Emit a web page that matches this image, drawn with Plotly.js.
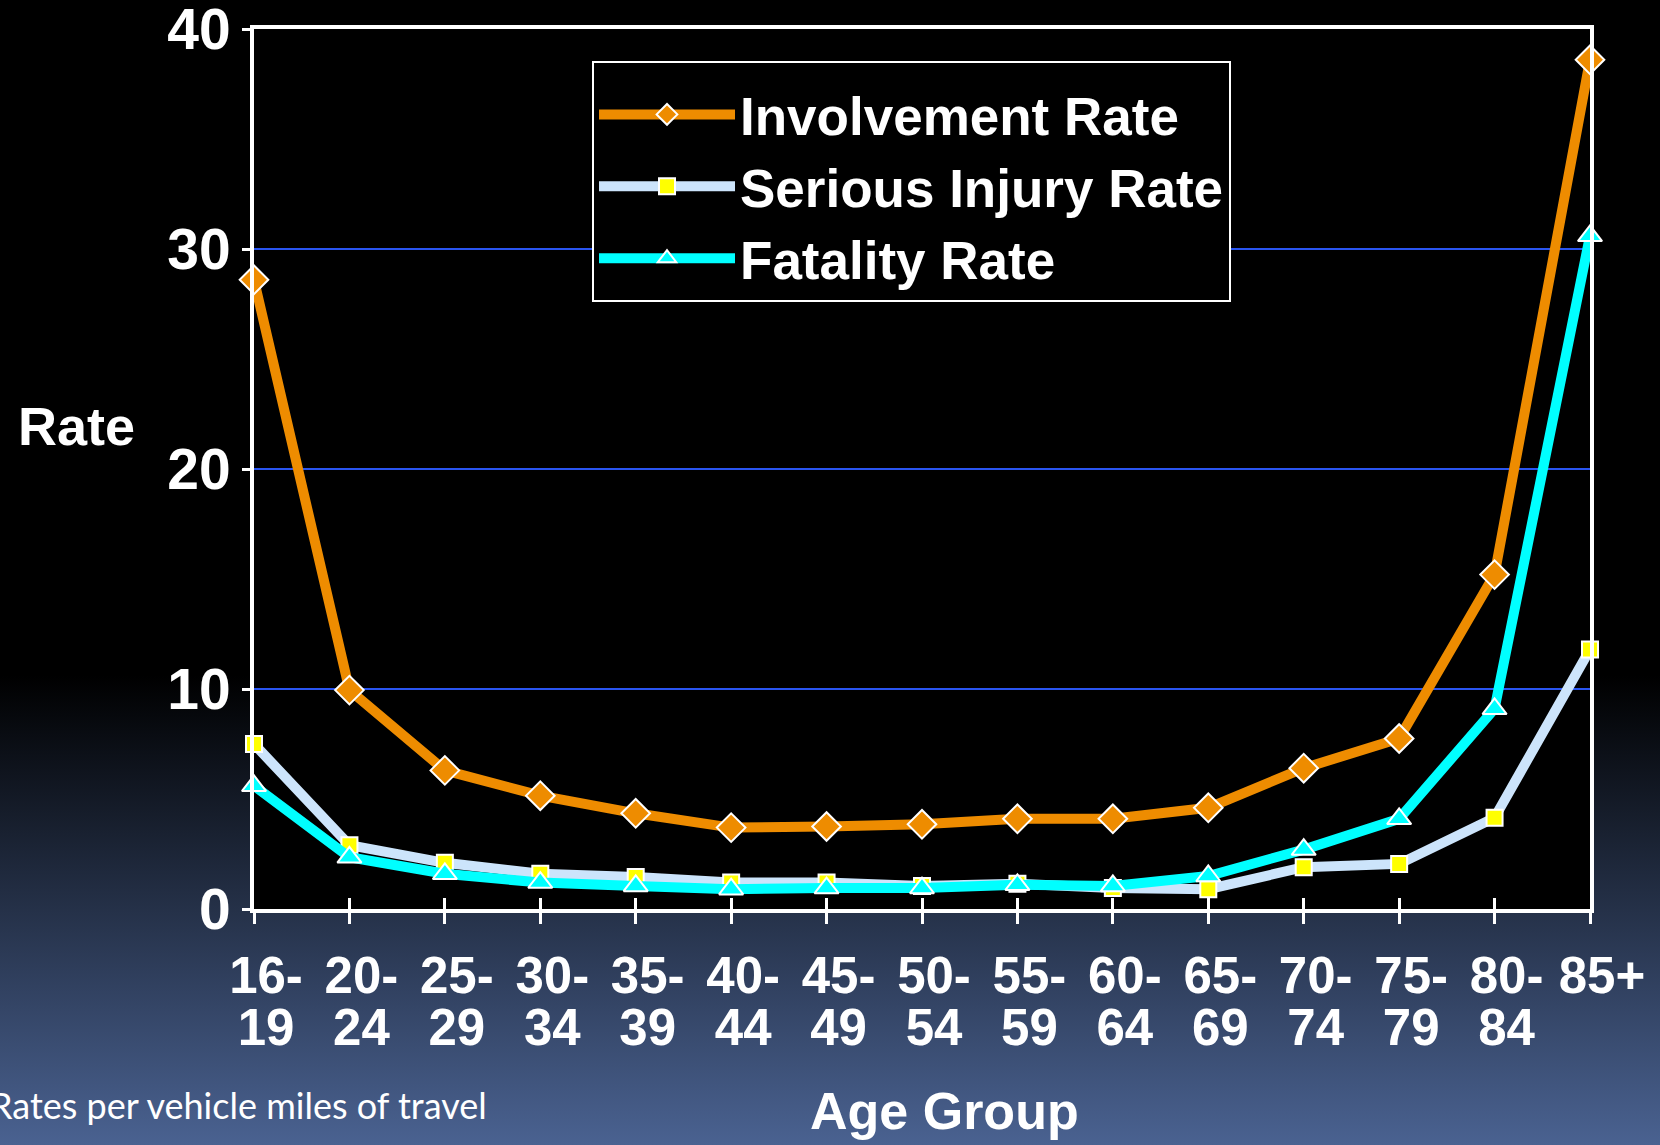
<!DOCTYPE html>
<html>
<head>
<meta charset="utf-8">
<script src="https://cdn.plot.ly/plotly-3.0.1.min.js"></script>
<style>
  html, body { margin: 0; padding: 0; }
  body {
    width: 1660px; height: 1145px; overflow: hidden;
    background: linear-gradient(to bottom, #000000 0%, #000000 59%, #4a6291 100%);
  }
  #chart { width: 1660px; height: 1145px; }
</style>
</head>
<body>
<div id="chart"></div>
<script>
// ---- data ----
const ageGroups = ["16-19","20-24","25-29","30-34","35-39","40-44","45-49","50-54","55-59","60-64","65-69","70-74","75-79","80-84","85+"];
const tickLine1 = ["16-","20-","25-","30-","35-","40-","45-","50-","55-","60-","65-","70-","75-","80-","85+"];
const tickLine2 = ["19","24","29","34","39","44","49","54","59","64","69","74","79","84",""];
const involvementRate = [28.6, 9.95, 6.3, 5.15, 4.35, 3.7, 3.75, 3.85, 4.1, 4.1, 4.6, 6.4, 7.75, 15.2, 38.6];
const seriousInjuryRate = [7.5, 2.9, 2.1, 1.6, 1.45, 1.2, 1.2, 1.05, 1.15, 0.95, 0.9, 1.9, 2.05, 4.15, 11.8];
const fatalityRate = [5.6, 2.35, 1.6, 1.2, 1.05, 0.9, 0.95, 0.95, 1.1, 1.05, 1.5, 2.7, 4.1, 9.1, 30.6];
const yTicks = [0, 10, 20, 30, 40];

const BOLD = "Liberation Sans, Arial, sans-serif";

const traces = [
  {
    name: "Serious Injury Rate", x: ageGroups, y: seriousInjuryRate,
    type: "scatter", mode: "lines+markers", legendrank: 2, cliponaxis: false,
    line: { color: "#cce4fb", width: 10 },
    marker: { symbol: "square", size: 16, color: "#ffff00", line: { color: "#ffffff", width: 2 } }
  },
  {
    name: "Fatality Rate", x: ageGroups, y: fatalityRate,
    type: "scatter", mode: "lines+markers", legendrank: 3, cliponaxis: false,
    line: { color: "#00ffff", width: 10 },
    marker: { symbol: "triangle-up", size: 21, color: "#00ffff", line: { color: "#ffffff", width: 2 } }
  },
  {
    name: "Involvement Rate", x: ageGroups, y: involvementRate,
    type: "scatter", mode: "lines+markers", legendrank: 1, cliponaxis: false,
    line: { color: "#ee8c00", width: 10 },
    marker: { symbol: "diamond", size: 22, color: "#ee8c00", line: { color: "#ffffff", width: 2 } }
  },
  {
    // carrier for the second line of the age-group labels
    name: "labels2", x: ageGroups, y: fatalityRate, xaxis: "x2",
    type: "scatter", mode: "markers", showlegend: false, hoverinfo: "skip",
    marker: { opacity: 0, size: 1 }
  }
];

const layout = {
  width: 1660, height: 1145, autosize: false,
  margin: { l: 254, r: 70, t: 29, b: 236 },
  paper_bgcolor: "rgba(0,0,0,0)",
  plot_bgcolor: "#000000",
  font: { family: BOLD, color: "#ffffff" },
  showlegend: true,
  xaxis: {
    type: "category", categoryorder: "array", categoryarray: ageGroups,
    range: [0, ageGroups.length - 1],
    tickmode: "array", tickvals: ageGroups, ticktext: tickLine1,
    tickfont: { family: BOLD, size: 51, color: "#ffffff", weight: "bold" },
    ticks: "outside", ticklen: 11, tickwidth: 3, tickcolor: "#ffffff",
    ticklabelstandoff: 8, ticklabelshift: 12, ticklabeloverflow: "allow",
    showline: true, linecolor: "#ffffff", linewidth: 4, mirror: true,
    showgrid: false, zeroline: false, fixedrange: true
  },
  xaxis2: {
    type: "category", categoryorder: "array", categoryarray: ageGroups,
    range: [0, ageGroups.length - 1],
    overlaying: "x", side: "bottom", anchor: "y",
    tickmode: "array", tickvals: ageGroups, ticktext: tickLine2,
    tickfont: { family: BOLD, size: 51, color: "#ffffff", weight: "bold" },
    ticks: "inside", ticklen: 11, tickwidth: 3, tickcolor: "#ffffff",
    ticklabelstandoff: 84, ticklabelshift: 12, ticklabeloverflow: "allow",
    showline: false, showgrid: false, zeroline: false, fixedrange: true
  },
  yaxis: {
    range: [0, 40], tickmode: "array", tickvals: yTicks,
    tickfont: { family: BOLD, size: 57, color: "#ffffff", weight: "bold" },
    ticks: "outside", ticklen: 8, tickwidth: 3, tickcolor: "#ffffff",
    ticklabelstandoff: 0, ticklabeloverflow: "allow",
    showline: true, linecolor: "#ffffff", linewidth: 4, mirror: true,
    showgrid: true, gridcolor: "#2a55f0", gridwidth: 2,
    zeroline: false, fixedrange: true
  },
  legend: {
    x: 0.253, y: 0.9636, xanchor: "left", yanchor: "top",
    bgcolor: "#000000", bordercolor: "#ffffff", borderwidth: 2,
    font: { family: BOLD, size: 53, color: "#ffffff", weight: "bold" },
    itemwidth: 136, traceorder: "normal",
    title: { text: "\u00a0", font: { size: 8 } }
  },
  annotations: [
    {
      text: "Rate", xref: "paper", yref: "paper", x: -0.1325, y: 0.549,
      xanchor: "center", yanchor: "middle", showarrow: false,
      font: { family: BOLD, size: 54, color: "#ffffff", weight: "bold" }
    },
    {
      text: "Age Group", xref: "paper", yref: "paper", x: 0.5165, y: -0.23,
      xanchor: "center", yanchor: "middle", showarrow: false,
      font: { family: BOLD, size: 52, color: "#ffffff", weight: "bold" }
    },
    {
      text: "Rates per vehicle miles of travel", xref: "paper", yref: "paper", x: -0.199, y: -0.223,
      xanchor: "left", yanchor: "middle", showarrow: false,
      font: { family: "Lato, Open Sans, sans-serif", size: 36, color: "#ffffff" }
    }
  ]
};

Plotly.newPlot("chart", traces, layout, { staticPlot: true, displayModeBar: false });
</script>
</body>
</html>
